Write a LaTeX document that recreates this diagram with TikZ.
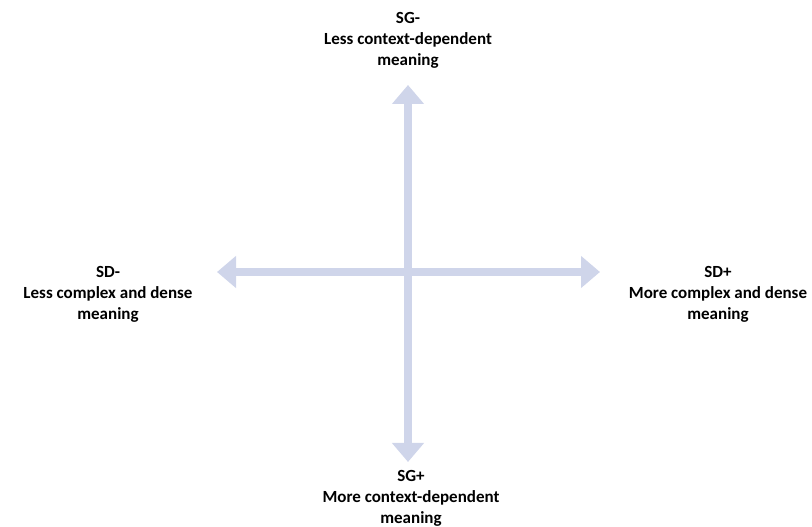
\documentclass[tikz,border=0pt]{standalone}
\usepackage{fontspec}
\setmainfont{Carlito}
\usetikzlibrary{arrows.meta}
\definecolor{axiscol}{RGB}{207,213,234}
\begin{document}
\begin{tikzpicture}[x=1pt,y=1pt,
  axis/.style={draw=axiscol,line width=7.5pt,-{Triangle[width=31pt,length=19pt]}},
  lab/.style={align=center,font=\fontsize{17}{21}\selectfont\bfseries,inner sep=0pt}]
\useasboundingbox (0,0) rectangle (812,527);
\coordinate (c) at (408,255);
\coordinate (top) at (408,442);
\coordinate (bot) at (408,65);
\coordinate (lft) at (217,255);
\coordinate (rgt) at (600,255);
\draw[axis] (c) -- (top);
\draw[axis] (c) -- (bot);
\draw[axis] (c) -- (lft);
\draw[axis] (c) -- (rgt);
\node[lab] (tl) at (408,487) {SG-\\Less context-dependent\\meaning};
\node[lab] (bl) at (411,29) {SG+\\More context-dependent\\meaning};
\node[lab] (ll) at (108,233) {SD-\\Less complex and dense\\meaning};
\node[lab] (rl) at (718,233) {SD+\\More complex and dense\\meaning};
\end{tikzpicture}
\end{document}
